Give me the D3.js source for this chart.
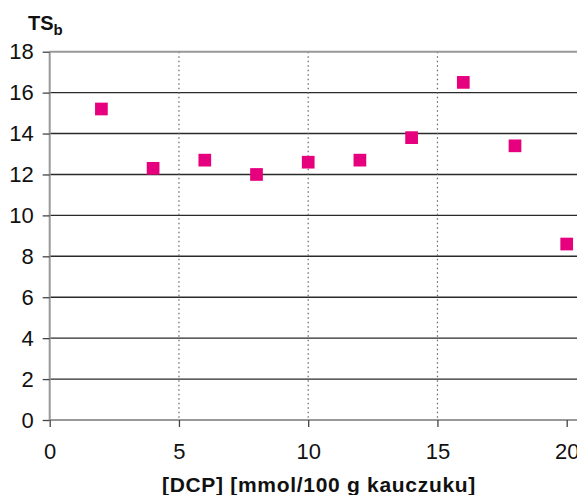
<!DOCTYPE html>
<html>
<head>
<meta charset="utf-8">
<script src="https://cdn.jsdelivr.net/npm/d3@7"></script>
<style>
  body { margin: 0; background: #fff; }
  text { font-family: "Liberation Sans", Arial, sans-serif; fill: #111; }
</style>
</head>
<body>
<script>
// data
var dcp = [2, 4, 6, 8, 10, 12, 14, 16, 18, 20];
var tsb = [15.2, 12.3, 12.7, 12.0, 12.6, 12.7, 13.8, 16.5, 13.4, 8.6];
var xTicks = [0, 5, 10, 15, 20];
var yTicks = [0, 2, 4, 6, 8, 10, 12, 14, 16, 18];

var w = 577, h = 495;
var pLeft = 49.7, pRight = 566.7, pTop = 51.7, pBottom = 420;

var svg = d3.select("body").append("svg")
    .attr("width", w)
    .attr("height", h);

var x = d3.scaleLinear().domain([0, 20]).range([pLeft, pRight]);
var y = d3.scaleLinear().domain([0, 18]).range([pBottom, pTop]);

//horizontal grid lines (black)
svg.selectAll(".hgrid")
    .data(yTicks.filter(function(d){ return d > 0 && d < 18; }))
    .enter().append("line")
    .attr("class", "hgrid")
    .attr("x1", pLeft).attr("x2", w)
    .attr("y1", function(d){ return y(d); })
    .attr("y2", function(d){ return y(d); })
    .style("stroke", "#2a2a2a")
    .style("stroke-width", 1.4);

//vertical dotted lines
svg.selectAll(".vgrid")
    .data(xTicks.filter(function(d){ return d > 0 && d < 20; }))
    .enter().append("line")
    .attr("class", "vgrid")
    .attr("x1", function(d){ return x(d); })
    .attr("x2", function(d){ return x(d); })
    .attr("y1", pTop).attr("y2", pBottom)
    .style("stroke", "#666")
    .style("stroke-width", 1.2)
    .style("stroke-dasharray", "1.5,3");

//top border
svg.append("line")
    .attr("x1", pLeft).attr("x2", w)
    .attr("y1", pTop).attr("y2", pTop)
    .style("stroke", "#999")
    .style("stroke-width", 2);

//y axis
var yAxis = d3.axisLeft(y).tickValues(yTicks).tickSize(7).tickPadding(9);
var gy = svg.append("g")
    .attr("transform", "translate(" + pLeft + ",0)")
    .call(yAxis);
gy.select(".domain").attr("d", "M0," + pBottom + "V" + pTop)
    .style("stroke", "#999").style("stroke-width", 2);
gy.selectAll(".tick line").style("stroke", "#444").style("stroke-width", 1.3);
gy.selectAll(".tick text")
    .style("font-size", "22px")
    .style("font-family", "'Liberation Sans', Arial, sans-serif")
    .attr("fill", "#111");

//x axis
var xAxis = d3.axisBottom(x).tickValues(xTicks).tickSize(7).tickPadding(16);
var gx = svg.append("g")
    .attr("transform", "translate(0," + pBottom + ")")
    .call(xAxis);
gx.select(".domain").attr("d", "M" + pLeft + ",0H" + w)
    .style("stroke", "#999").style("stroke-width", 2);
gx.selectAll(".tick line").style("stroke", "#444").style("stroke-width", 1.3);
gx.selectAll(".tick text")
    .style("font-size", "22px")
    .style("font-family", "'Liberation Sans', Arial, sans-serif")
    .attr("fill", "#111");

//points
var size = 12.7;
svg.selectAll(".pt")
    .data(dcp)
    .enter().append("rect")
    .attr("class", "pt")
    .attr("x", function(d){ return x(d) - size / 2; })
    .attr("y", function(d, i){ return y(tsb[i]) - size / 2; })
    .attr("width", size)
    .attr("height", size)
    .style("fill", "#e6007e");

//axis titles
var yt = svg.append("text")
    .attr("x", 28)
    .attr("y", 29.5)
    .style("font-size", "20px")
    .style("font-weight", "bold");
yt.append("tspan").text("TS");
yt.append("tspan").attr("dy", 5.5).style("font-size", "15px").text("b");

svg.append("text")
    .attr("x", 319)
    .attr("y", 491.5)
    .attr("text-anchor", "middle")
    .style("font-size", "21px")
    .style("font-weight", "bold")
    .style("letter-spacing", "0.7px")
    .text("[DCP] [mmol/100 g kauczuku]");
</script>
</body>
</html>
